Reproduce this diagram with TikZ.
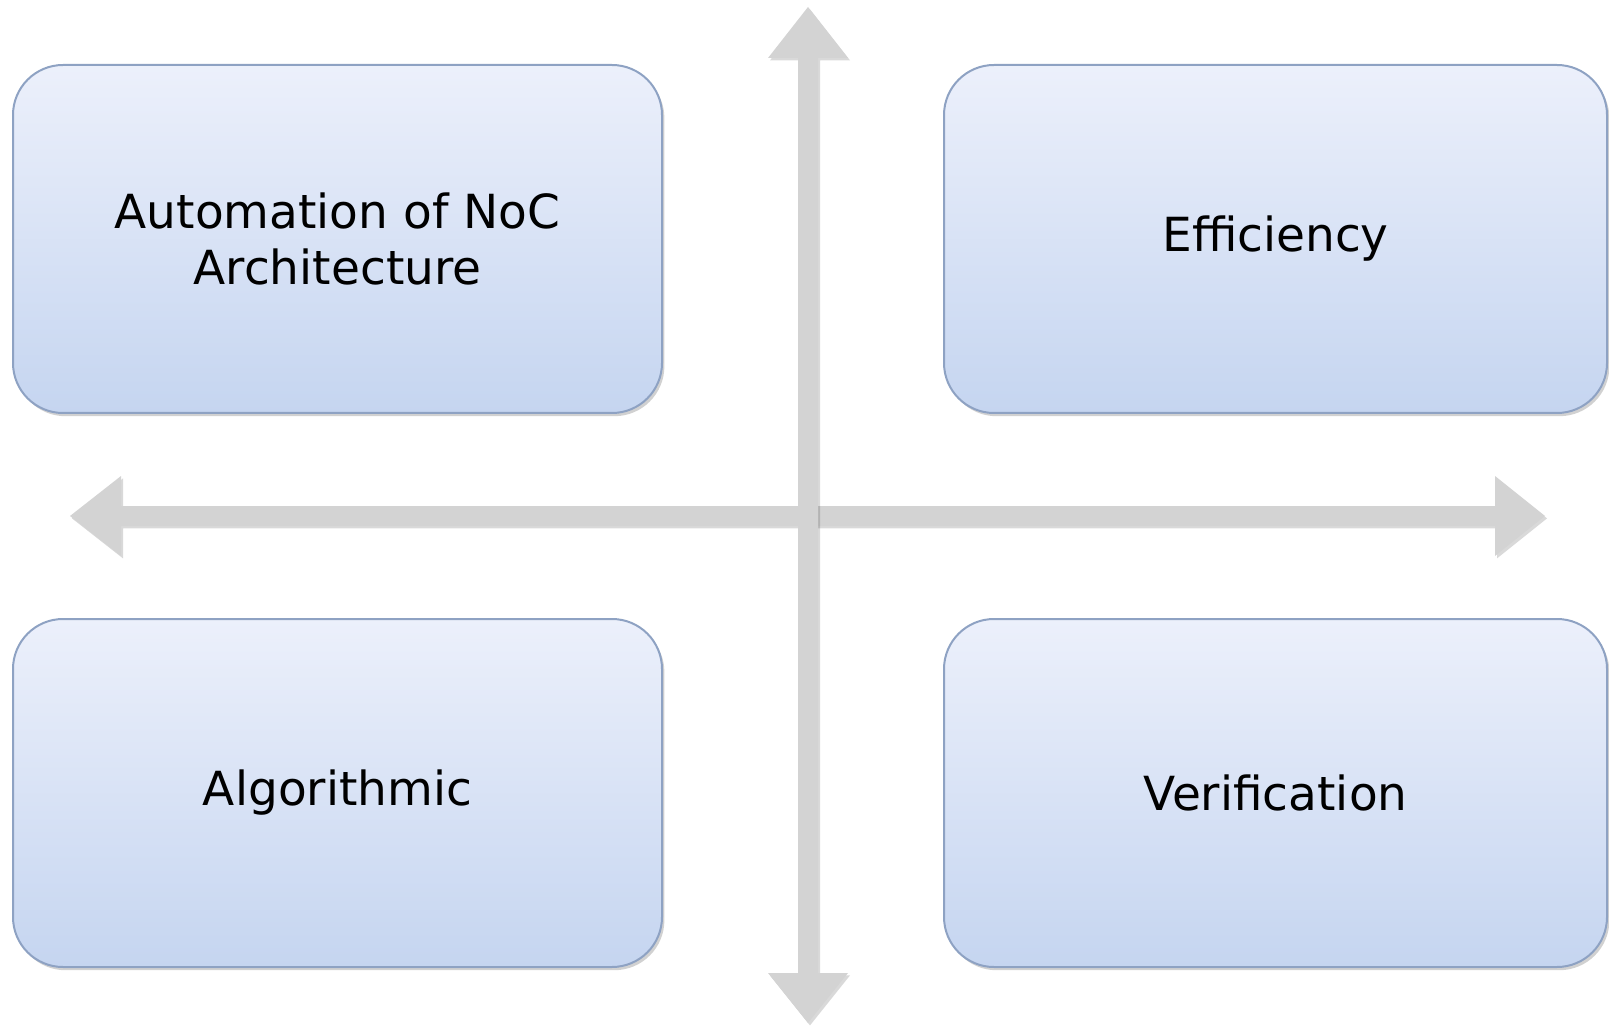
\documentclass[tikz,border=0pt]{standalone}
\usepackage{fontspec}
\setmainfont{DejaVu Sans}
\usetikzlibrary{shadows}
\definecolor{boxtop}{HTML}{ECF0FB}
\definecolor{boxbot}{HTML}{C5D5F0}
\definecolor{boxline}{HTML}{8EA2C3}
\definecolor{axisgray}{HTML}{D3D3D3}
\tikzset{
  quad/.style={rectangle, rounded corners=25pt, draw=boxline, line width=1pt,
    top color=boxtop, bottom color=boxbot, minimum width=324.5pt,
    minimum height=174pt, inner sep=0pt, align=center,
    font=\fontsize{23.5}{28}\selectfont,
    drop shadow={shadow xshift=1.2pt, shadow yshift=-1.6pt, opacity=0.18, fill=black}},
  wide/.style={minimum width=331.5pt},
  axis/.style={fill=axisgray, draw=none,
    drop shadow={shadow xshift=1pt, shadow yshift=-1.2pt, opacity=0.15, fill=black}}
}
\begin{document}
\begin{tikzpicture}[x=0.5pt, y=-0.5pt]
  \useasboundingbox (0,0) rectangle (1609,1031);
  % horizontal double-headed axis
  \coordinate (hl) at (70,516);
  \coordinate (hr) at (1545,516);
  \path[axis] (hl) -- (121,476) -- (121,506) -- (1495,506) -- (1495,476)
    -- (hr) -- (1495,556) -- (1495,526) -- (121,526) -- (121,556) -- cycle;
  % vertical double-headed axis
  \coordinate (vt) at (808,7);
  \coordinate (vb) at (808,1023);
  \path[axis] (vt) -- (848,58) -- (818,58) -- (818,973) -- (848,973)
    -- (vb) -- (768,973) -- (798,973) -- (798,58) -- (768,58) -- cycle;
  % the four quadrants
  \node[quad] (auto) at (337.5,239) {Automation of NoC\\Architecture};
  \node[quad, wide] (eff)  at (1275.5,239) {Efficiency};
  \node[quad] (alg)  at (337.5,793) {Algorithmic};
  \node[quad, wide] (ver)  at (1275.5,793) {Verification};
\end{tikzpicture}
\end{document}
